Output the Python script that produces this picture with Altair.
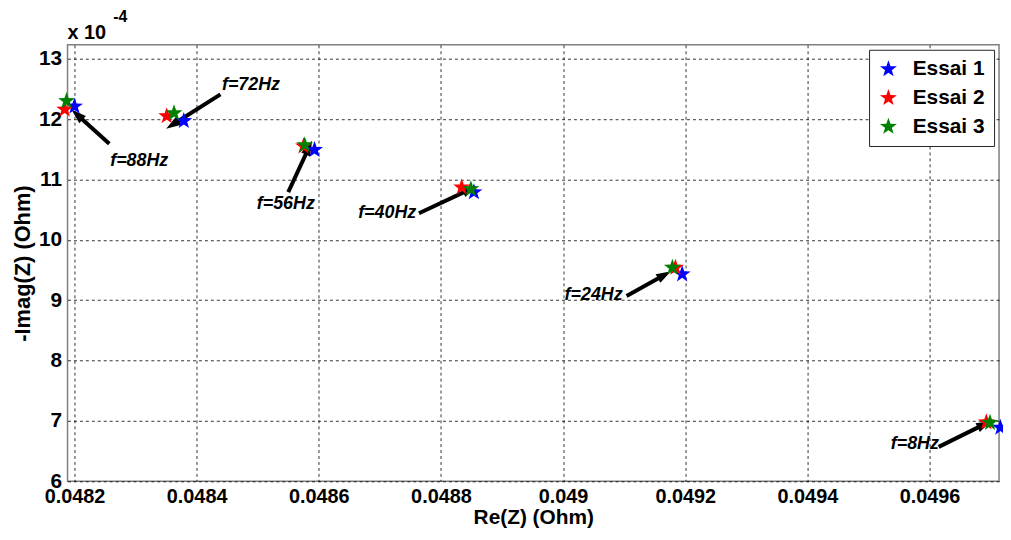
import math
import altair as alt
import pandas as pd

# ---------------- data (y in units of 1e-4 Ohm) ----------------
freqs = ["88Hz", "72Hz", "56Hz", "40Hz", "24Hz", "8Hz"]
re_e1 = [0.048200, 0.048379, 0.048593, 0.048854, 0.049195, 0.049716]
im_e1 = [12.21, 11.97, 11.49, 10.79, 9.43, 6.89]
re_e2 = [0.048184, 0.048351, 0.048575, 0.048834, 0.049184, 0.049693]
im_e2 = [12.16, 12.05, 11.55, 10.87, 9.54, 6.98]
re_e3 = [0.048187, 0.048363, 0.048577, 0.048849, 0.049179, 0.049699]
im_e3 = [12.30, 12.10, 11.57, 10.84, 9.54, 6.97]
series = ["Essai 1", "Essai 2", "Essai 3"]
colors = ["#0000ff", "#ff0000", "#008000"]

ann_text = ["f=88Hz", "f=72Hz", "f=56Hz", "f=40Hz", "f=24Hz", "f=8Hz"]
ann_text_x = [0.048306, 0.048489, 0.048546, 0.048712, 0.049050, 0.049576]
ann_text_y = [11.31, 12.57, 10.59, 10.44, 9.08, 6.61]
arrow_tail_x = [0.048257, 0.048439, 0.048550, 0.048764, 0.049104, 0.049615]
arrow_tail_y = [11.59, 12.41, 10.79, 10.44, 9.07, 6.57]
arrow_head_x = [0.048195, 0.048350, 0.048589, 0.048859, 0.049177, 0.049701]
arrow_head_y = [12.16, 11.84, 11.64, 10.89, 9.48, 7.00]

x_ticks = [0.0482, 0.0484, 0.0486, 0.0488, 0.0490, 0.0492, 0.0494, 0.0496]
y_ticks = [6, 7, 8, 9, 10, 11, 12, 13]
x_domain = [0.0481886, 0.0497138]
y_domain = [6, 13.23]

W, H = 939, 440
FONT = "Liberation Sans"

# ---------------- tables ----------------
rows = []
for s, xs_, ys_ in zip(series, [re_e1, re_e2, re_e3], [im_e1, im_e2, im_e3]):
    for f, xv, yv in zip(freqs, xs_, ys_):
        rows.append({"series": s, "freq": f, "re": xv, "im": yv})
pts = pd.DataFrame(rows)

def to_px(xv, yv):
    px = (xv - x_domain[0]) / (x_domain[1] - x_domain[0]) * W
    py = (y_domain[1] - yv) / (y_domain[1] - y_domain[0]) * H
    return px, py

def to_data(px, py):
    xv = x_domain[0] + px / W * (x_domain[1] - x_domain[0])
    yv = y_domain[1] - py / H * (y_domain[1] - y_domain[0])
    return xv, yv

arrows = []
for tx, ty, hx, hy in zip(arrow_tail_x, arrow_tail_y, arrow_head_x, arrow_head_y):
    tpx, tpy = to_px(tx, ty)
    hpx, hpy = to_px(hx, hy)
    dx, dy = hpx - tpx, hpy - tpy
    L = math.hypot(dx, dy)
    ang = math.degrees(math.atan2(dx, -dy)) % 360
    epx, epy = hpx - dx / L * 9, hpy - dy / L * 9
    ex, ey = to_data(epx, epy)
    arrows.append({"tx": tx, "ty": ty, "ex": ex, "ey": ey,
                   "hx": hx, "hy": hy, "angle": ang})
arr = pd.DataFrame(arrows)

labels = pd.DataFrame({"text": ann_text, "x": ann_text_x, "y": ann_text_y})

pts_star = []
for k in range(10):
    r = 1.0 if k % 2 == 0 else 0.4
    a = math.radians(-90 + 36 * k)
    pts_star.append(f"{r*math.cos(a):.3f},{r*math.sin(a):.3f}")
STAR = "M" + " L".join(pts_star) + " Z"
HEAD = "M0,0 L0.55,1.7 L-0.55,1.7 Z"

xs = alt.Scale(domain=x_domain, nice=False, zero=False)
ys = alt.Scale(domain=y_domain, nice=False, zero=False)

x_axis = alt.Axis(values=x_ticks, format=".4~f", title="Re(Z) (Ohm)",
                  grid=True, gridDash=[3, 3], gridColor="black", gridOpacity=1,
                  gridWidth=0.8, ticks=False, domain=False,
                  labelFont=FONT, labelFontSize=20, labelFontWeight="bold",
                  labelColor="black", labelPadding=5, labelFlush=False,
                  titleFont=FONT, titleFontSize=21, titleFontWeight="bold",
                  titleColor="black", titlePadding=1)
y_axis = alt.Axis(values=y_ticks, format="d", title="-Imag(Z) (Ohm)",
                  grid=True, gridDash=[3, 3], gridColor="black", gridOpacity=1,
                  gridWidth=0.8, ticks=False, domain=False,
                  labelFont=FONT, labelFontSize=21, labelFontWeight="bold",
                  labelColor="black", labelPadding=6, labelFlush=False,
                  titleFont=FONT, titleFontSize=22, titleFontWeight="bold",
                  titleColor="black", titlePadding=4)

lines = alt.Chart(arr).mark_rule(color="black", strokeWidth=4).encode(
    x=alt.X("tx:Q", scale=xs, axis=x_axis),
    y=alt.Y("ty:Q", scale=ys, axis=y_axis),
    x2="ex:Q", y2="ey:Q")

heads = alt.Chart(arr).mark_point(shape=HEAD, filled=True, color="black",
                                  opacity=1, size=320).encode(
    x=alt.X("hx:Q", scale=xs), y=alt.Y("hy:Q", scale=ys),
    angle=alt.Angle("angle:Q", scale=None))

stars = alt.Chart(pts).mark_point(shape=STAR, filled=True, opacity=1,
                                  size=320).encode(
    x=alt.X("re:Q", scale=xs), y=alt.Y("im:Q", scale=ys),
    color=alt.Color("series:N",
                    scale=alt.Scale(domain=series, range=colors),
                    legend=alt.Legend(title=None, orient="top-right",
                                      offset=5, symbolType=STAR,
                                      symbolSize=320, symbolStrokeWidth=0,
                                      labelFont=FONT, labelFontSize=21,
                                      labelFontWeight="bold",
                                      labelColor="black", rowPadding=7,
                                      padding=9, strokeColor="#222",
                                      fillColor="white", labelOffset=14)),
    order=alt.Order("series:N"))

texts = alt.Chart(labels).mark_text(font=FONT, fontSize=18, fontWeight="bold",
                                    fontStyle="italic", color="black",
                                    align="center", baseline="middle").encode(
    x=alt.X("x:Q", scale=xs), y=alt.Y("y:Q", scale=ys), text="text:N")

exp_df = pd.DataFrame({"t": ["x 10"], "e": ["-4"]})
exp_main = alt.Chart(exp_df).mark_text(font=FONT, fontSize=20, color="black",
                                       fontWeight="bold",
                                       align="left", baseline="middle").encode(
    x=alt.value(0), y=alt.value(-12), text="t:N")
exp_sup = alt.Chart(exp_df).mark_text(font=FONT, fontSize=16, color="black",
                                      fontWeight="bold",
                                      align="left", baseline="middle").encode(
    x=alt.value(46), y=alt.value(-28), text="e:N")

chart = alt.layer(lines, heads, stars, texts, exp_main, exp_sup).properties(
    width=W, height=H,
    autosize=alt.AutoSizeParams(type="none"),
    padding={"left": 60, "top": 35, "right": 4, "bottom": 49},
    background="white",
).configure_view(stroke="#7f7f7f", strokeWidth=1.5)

chart.save("out.html", embed_options={"renderer": "svg", "actions": False})
